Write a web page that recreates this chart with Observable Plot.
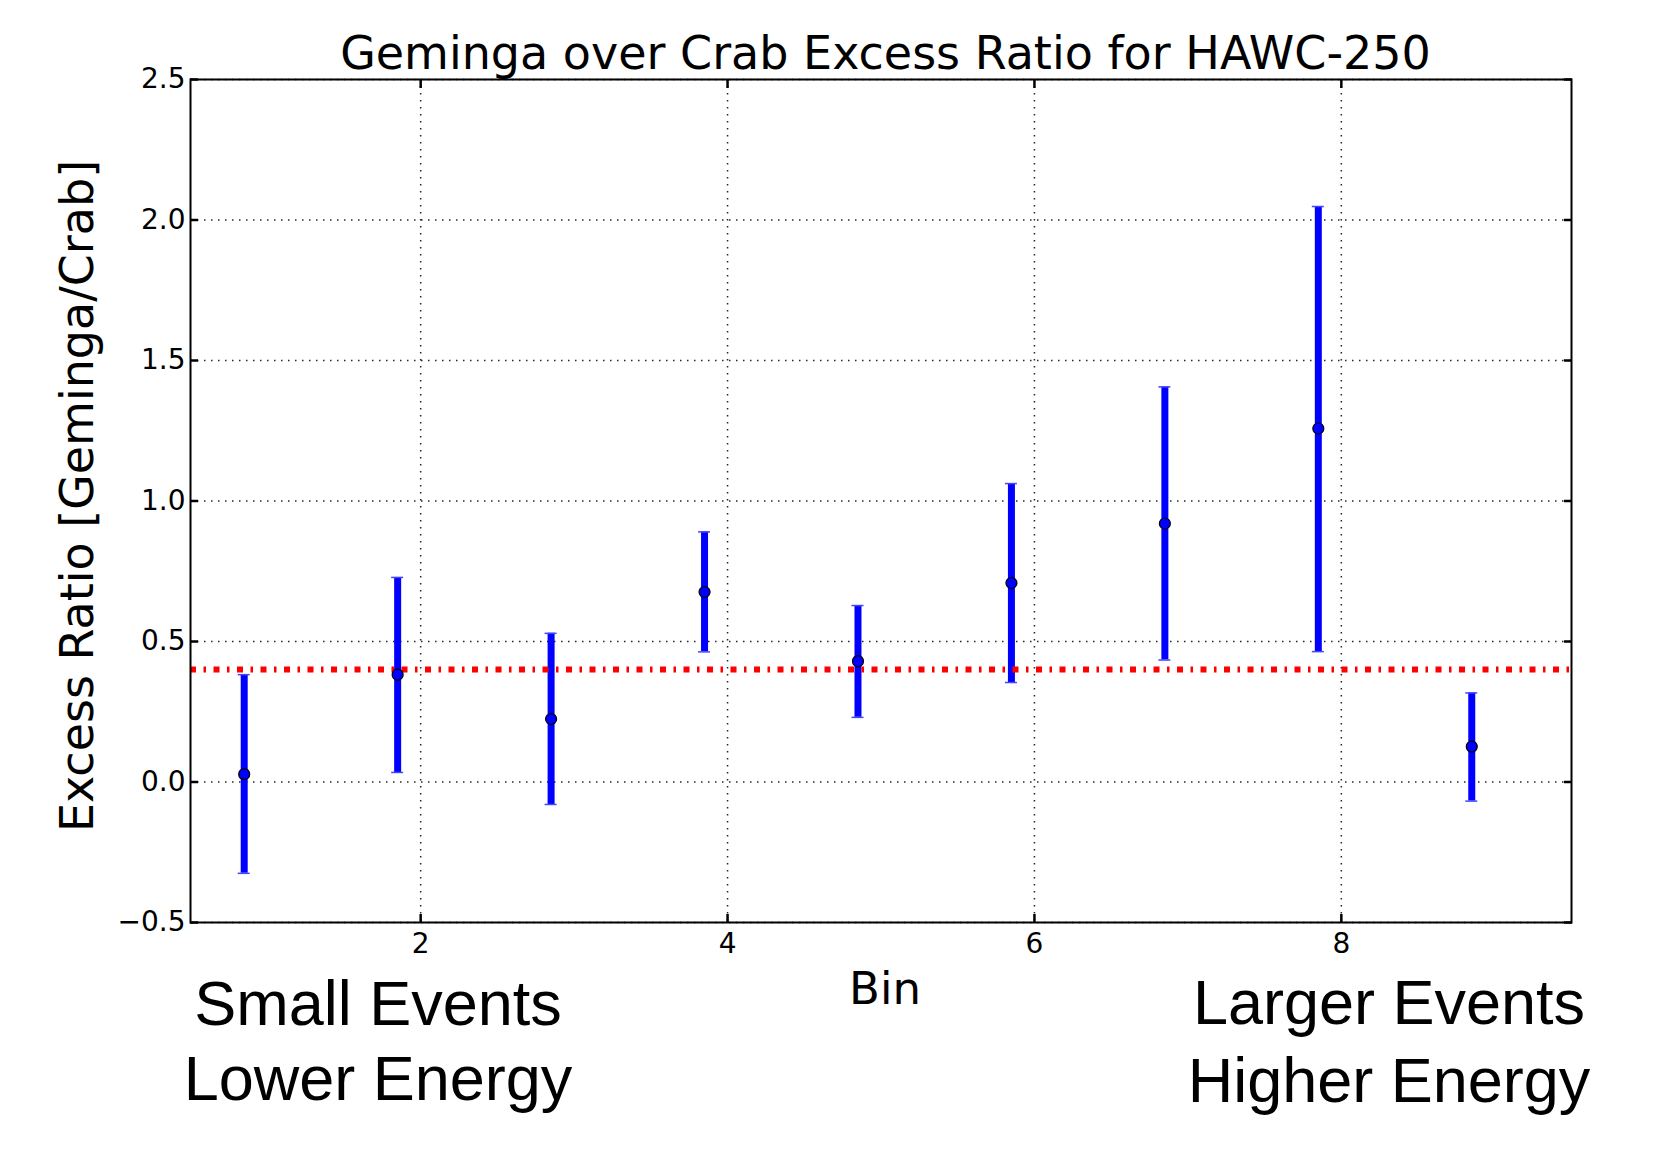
<!DOCTYPE html>
<html>
<head>
<meta charset="utf-8">
<script src="https://cdn.jsdelivr.net/npm/d3@7"></script>
<script src="https://cdn.jsdelivr.net/npm/@observablehq/plot@0.6"></script>
<style>
  html, body { margin: 0; padding: 0; background: #fff; }
  #wrap { position: relative; width: 1658px; height: 1156px; overflow: hidden; }
  .t { position: absolute; white-space: nowrap; line-height: 1; color: #000; }
  .title { font-family: "DejaVu Sans", sans-serif; font-size: 46px; }
  .ann { font-family: "Liberation Sans", Arial, sans-serif; font-size: 63px; transform: translateX(-50%); }
  .ylab { font-family: "DejaVu Sans", sans-serif; font-size: 46px; transform: translate(-50%, -50%) rotate(-90deg); }
  .xlab { font-family: "DejaVu Sans", sans-serif; font-size: 45px; transform: translateX(-50%); }
</style>
</head>
<body>
<div id="wrap"></div>
<script>
// ---- data ----
const binPos = [0.85, 1.85, 2.85, 3.85, 4.85, 5.85, 6.85, 7.85, 8.85];
const ratio  = [0.028, 0.382, 0.224, 0.676, 0.430, 0.708, 0.920, 1.258, 0.126];
const lower  = [-0.325, 0.034, -0.080, 0.463, 0.230, 0.354, 0.434, 0.464, -0.068];
const upper  = [0.382, 0.728, 0.529, 0.890, 0.628, 1.062, 1.406, 2.048, 0.317];
const reference = [0.4];
const xTicks = [2, 4, 6, 8];
const yTicks = [-0.5, 0.0, 0.5, 1.0, 1.5, 2.0, 2.5];

const titleText = "Geminga over Crab Excess Ratio for HAWC-250";
const xLabel = "Bin";
const yLabel = "Excess Ratio [Geminga/Crab]";
const leftNote = ["Small Events", "Lower Energy"];
const rightNote = ["Larger Events", "Higher Energy"];

const data = binPos.map((x, i) => ({x, r: ratio[i], lo: lower[i], hi: upper[i]}));
const fmt = d3.format(".1f");

const W = 1658, H = 1156;
const mL = 190, mR = 87, mT = 79, mB = 234;

const chart = Plot.plot({
  width: W,
  height: H,
  marginLeft: mL,
  marginRight: mR,
  marginTop: mT,
  marginBottom: mB,
  style: {fontFamily: "DejaVu Sans, sans-serif", background: "#fff", color: "#000"},
  x: {domain: [0.5, 9.5]},
  y: {domain: [-0.5, 2.5]},
  marks: [
    Plot.gridX(xTicks, {stroke: "#000", strokeOpacity: 0.85, strokeWidth: 1.5, strokeDasharray: "1.5,5.5"}),
    Plot.gridY(yTicks, {stroke: "#000", strokeOpacity: 0.85, strokeWidth: 1.5, strokeDasharray: "1.5,5.5"}),
    // error bars
    Plot.ruleX(data, {x: "x", y1: "lo", y2: "hi", stroke: "#0000ff", strokeWidth: 7}),
    Plot.ruleY(data, {y: "hi", x1: "x", x2: "x", insetLeft: -6, insetRight: -6, stroke: "#4444ff", strokeWidth: 1.5}),
    Plot.ruleY(data, {y: "lo", x1: "x", x2: "x", insetLeft: -6, insetRight: -6, stroke: "#4444ff", strokeWidth: 1.5}),
    // reference line
    Plot.ruleY(reference, {stroke: "#ff0000", strokeWidth: 6, strokeDasharray: "6,7.5,2.5,7.5"}),
    // points
    Plot.dot(data, {x: "x", y: "r", r: 5.5, fill: "#0000ff", stroke: "#000", strokeWidth: 1.2}),
    // inward ticks on all four sides
    Plot.axisY(yTicks, {anchor: "left", tickSize: -8, strokeWidth: 2.5, tickFormat: () => "", label: null}),
    Plot.axisY(yTicks, {anchor: "right", tickSize: -8, strokeWidth: 2.5, tickFormat: () => "", label: null}),
    Plot.axisX(xTicks, {anchor: "bottom", tickSize: -8, strokeWidth: 2.5, tickFormat: () => "", label: null}),
    Plot.axisX(xTicks, {anchor: "top", tickSize: -8, strokeWidth: 2.5, tickFormat: () => "", label: null}),
    // tick labels
    Plot.axisY(yTicks, {anchor: "left", tickSize: 0, tickPadding: 5, tickFormat: fmt, fontSize: 28, label: null}),
    Plot.axisX(xTicks, {anchor: "bottom", tickSize: 0, tickPadding: 11, tickFormat: d => String(d), fontSize: 28, label: null}),
    Plot.frame({stroke: "#000", strokeWidth: 2})
  ]
});

const wrap = document.getElementById("wrap");
wrap.appendChild(chart);

function addText(cls, text, left, top) {
  const d = document.createElement("div");
  d.className = "t " + cls;
  d.textContent = text;
  d.style.left = left + "px";
  d.style.top = top + "px";
  wrap.appendChild(d);
  return d;
}

const plotCenterX = mL + (W - mL - mR) / 2;
// title: baseline ~69px
const tdiv = addText("title", titleText, 0, 30);
tdiv.style.width = W + "px";
tdiv.style.left = "0px";
tdiv.style.textAlign = "center";
tdiv.style.paddingLeft = (2 * plotCenterX - W + 10) + "px";
tdiv.style.boxSizing = "border-box";

addText("xlab", xLabel, 885, 966);
addText("ylab", yLabel, 77, 496);

addText("ann", leftNote[0], 378, 972);
addText("ann", leftNote[1], 378, 1047);
addText("ann", rightNote[0], 1389, 971);
addText("ann", rightNote[1], 1389, 1049);
</script>
</body>
</html>
